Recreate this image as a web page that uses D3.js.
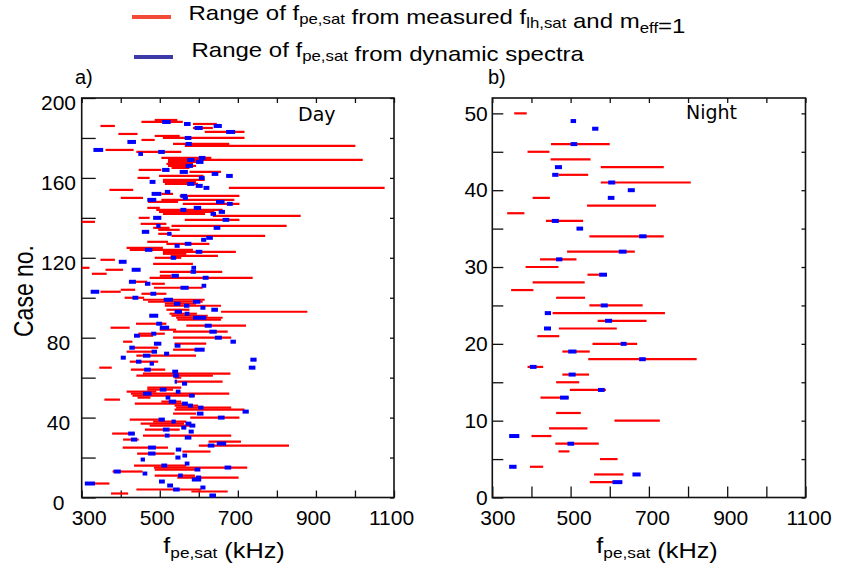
<!DOCTYPE html>
<html>
<head>
<meta charset="utf-8">
<script src="https://cdn.jsdelivr.net/npm/d3@7"></script>
<style>
body { margin: 0; background: #fff; }
text { font-family: "Liberation Sans", Arial, sans-serif; fill: #000; }
</style>
</head>
<body>
<div id="chart"></div>
<script>
// tick values
const xTicks = [300, 400, 500, 600, 700, 800, 900, 1000, 1100];
const xLabels = [300, 500, 700, 900, 1100];
const dayYTicks = [0, 20, 40, 60, 80, 100, 120, 140, 160, 180, 200];
const dayYLabels = [0, 40, 80, 120, 160, 200];
const nightYTicks = [0, 5, 10, 15, 20, 25, 30, 35, 40, 45, 50];
const nightYLabels = [0, 10, 20, 30, 40, 50];

// [case, low kHz, high kHz]
const dayRed = [
  [189, 487, 545], [188, 453, 559], [187, 585, 646], [186, 348, 385], [185, 585, 636],
  [183, 615, 717], [182, 394, 443], [181, 487, 551], [180, 508, 717], [179, 453, 487],
  [177, 534, 678], [176, 564, 1001], [174, 361, 433], [173, 440, 555], [170, 504, 632],
  [169, 521, 1020], [168, 521, 602], [167, 517, 585], [166, 521, 593], [165, 530, 576],
  [164, 446, 504], [163, 576, 657], [161, 498, 612], [160, 443, 474], [159, 508, 615],
  [158, 508, 593], [157, 513, 598], [155, 677, 1076], [154, 371, 432], [152, 504, 534],
  [151, 551, 704], [150, 400, 457], [149, 504, 691], [148, 470, 547], [147, 559, 704],
  [145, 468, 500], [144, 491, 661], [143, 498, 640], [142, 508, 616], [141, 636, 861],
  [140, 446, 474], [139, 564, 704], [138, 300, 334], [137, 451, 517], [136, 530, 825],
  [135, 483, 525], [134, 496, 551], [132, 496, 530], [131, 530, 770], [128, 468, 521],
  [127, 517, 627], [125, 415, 508], [124, 423, 585], [123, 508, 695], [122, 508, 568],
  [121, 528, 649], [120, 487, 555], [119, 348, 385], [117, 483, 585], [115, 300, 320],
  [114, 361, 406], [113, 500, 660], [112, 326, 364], [111, 500, 530], [110, 474, 738],
  [108, 421, 468], [107, 479, 513], [105, 485, 610], [104, 400, 437], [103, 348, 400],
  [102, 453, 517], [100, 410, 460], [99, 457, 615], [98, 470, 610], [97, 513, 593],
  [96, 513, 657], [94, 517, 576], [93, 657, 878], [92, 525, 595], [91, 530, 623],
  [90, 542, 661], [89, 545, 657], [87, 439, 517], [86, 568, 721], [85, 374, 423],
  [84, 500, 542], [83, 534, 674], [82, 445, 513], [81, 447, 483], [80, 534, 683],
  [78, 406, 430], [77, 538, 619], [75, 428, 496], [74, 534, 612], [73, 415, 485],
  [71, 440, 593], [68, 423, 496], [65, 345, 377], [64, 426, 514], [62, 457, 681],
  [61, 440, 636], [60, 538, 555], [58, 542, 661], [55, 468, 555], [54, 468, 534],
  [53, 415, 491], [52, 426, 678], [51, 430, 590], [50, 443, 476], [49, 358, 398],
  [48, 504, 555], [47, 436, 564], [46, 538, 598], [45, 542, 683], [44, 538, 717],
  [42, 534, 593], [40, 578, 704], [39, 423, 508], [38, 483, 568], [37, 451, 562],
  [36, 474, 581], [34, 462, 551], [32, 378, 436], [31, 457, 683], [29, 406, 446],
  [28, 625, 708], [26, 600, 831], [25, 405, 521], [23, 558, 630], [22, 442, 538],
  [16, 434, 568], [15, 485, 724], [14, 487, 598], [13, 379, 456], [11, 487, 590],
  [10, 545, 702], [7, 309, 371], [4, 440, 606], [3, 581, 674], [2, 375, 419]
];
const dayBlue = [
  [188, 506, 528], [187, 562, 579], [186, 638, 659], [185, 589, 610], [183, 670, 693],
  [180, 564, 581], [178, 417, 439], [177, 566, 582], [174, 330, 355], [173, 496, 513],
  [172, 445, 457], [170, 600, 617], [169, 570, 589], [168, 593, 612], [166, 566, 585],
  [164, 506, 525], [163, 551, 572], [162, 633, 650], [161, 670, 687], [160, 600, 615],
  [158, 474, 489], [157, 570, 589], [156, 592, 610], [155, 612, 627], [153, 513, 527],
  [152, 479, 504], [151, 553, 570], [150, 559, 572], [149, 468, 491], [148, 644, 666],
  [147, 672, 687], [145, 587, 606], [144, 553, 568], [143, 651, 667], [142, 630, 644],
  [140, 483, 504], [139, 661, 678], [136, 491, 502], [135, 638, 655], [133, 454, 473],
  [132, 519, 530], [130, 619, 636], [129, 606, 619], [127, 564, 581], [126, 538, 551],
  [124, 462, 481], [123, 592, 609], [120, 528, 542], [118, 395, 415], [115, 581, 593],
  [114, 428, 451], [113, 579, 593], [111, 530, 549], [110, 610, 625], [108, 421, 439],
  [107, 462, 476], [106, 607, 619], [105, 553, 574], [103, 323, 345], [102, 476, 491],
  [100, 430, 445], [99, 510, 534], [98, 585, 604], [97, 536, 553], [96, 562, 576],
  [95, 604, 617], [94, 632, 649], [93, 538, 557], [92, 564, 576], [91, 473, 496],
  [90, 585, 619], [87, 491, 506], [86, 615, 633], [85, 500, 524], [83, 627, 646],
  [82, 478, 491], [81, 434, 449], [80, 641, 659], [78, 681, 695], [77, 485, 504],
  [76, 538, 553], [75, 422, 436], [74, 589, 615], [73, 479, 493], [72, 511, 524],
  [71, 457, 476], [70, 400, 413], [69, 732, 748], [68, 439, 453], [67, 474, 485],
  [65, 728, 745], [64, 460, 477], [63, 532, 547], [61, 534, 549], [58, 538, 544],
  [57, 557, 570], [54, 500, 517], [53, 541, 553], [52, 457, 479], [51, 575, 589],
  [50, 515, 527], [48, 523, 542], [47, 557, 572], [46, 572, 585], [45, 598, 612],
  [43, 712, 728], [42, 595, 612], [40, 649, 666], [39, 497, 513], [38, 530, 541],
  [37, 566, 581], [36, 576, 591], [35, 555, 568], [34, 508, 525], [33, 574, 587],
  [32, 419, 436], [31, 513, 525], [30, 564, 581], [29, 426, 442], [27, 646, 670],
  [26, 623, 640], [25, 470, 490], [24, 541, 555], [22, 470, 489], [21, 558, 570],
  [20, 540, 553], [19, 451, 462], [17, 564, 576], [16, 504, 519], [15, 666, 683],
  [14, 589, 604], [13, 382, 400], [12, 456, 468], [11, 547, 559], [10, 593, 606],
  [9, 582, 606], [8, 498, 513], [7, 308, 334], [6, 519, 534], [5, 604, 617],
  [4, 534, 551], [1, 627, 644]
];

const nightRed = [
  [50, 356, 388], [46, 450, 600], [45, 390, 446], [44, 449, 551], [43, 577, 738],
  [42, 469, 545], [41, 577, 807], [39, 403, 447], [38, 542, 718], [37, 338, 382],
  [36, 437, 532], [34, 548, 738], [32, 491, 664], [31, 422, 515], [30, 385, 469],
  [29, 543, 575], [28, 403, 536], [27, 348, 405], [26, 463, 537], [25, 548, 684],
  [24, 454, 741], [23, 569, 694], [22, 470, 618], [21, 415, 471], [20, 556, 670],
  [19, 479, 549], [18, 545, 822], [17, 390, 430], [16, 479, 547], [15, 463, 522],
  [14, 498, 590], [13, 423, 495], [11, 463, 526], [10, 612, 728], [9, 445, 543],
  [8, 400, 451], [7, 461, 572], [6, 469, 497], [5, 575, 620], [4, 396, 430],
  [3, 560, 635], [2, 549, 632]
];
const nightBlue = [
  [49, 500, 514], [48, 555, 571], [46, 500, 517], [43, 460, 478], [42, 453, 469],
  [41, 596, 614], [40, 646, 664], [39, 595, 612], [36, 452, 470], [35, 515, 532],
  [34, 675, 694], [32, 623, 643], [31, 463, 479], [29, 573, 593], [25, 577, 595],
  [24, 434, 450], [23, 588, 606], [22, 432, 450], [20, 628, 643], [19, 494, 515],
  [18, 675, 692], [17, 396, 413], [16, 495, 513], [14, 570, 587], [13, 473, 495],
  [8, 343, 369], [7, 492, 509], [4, 343, 362], [3, 658, 679], [2, 607, 632]
];

const svg = d3.select('#chart')
  .append('svg')
  .attr('width', 842)
  .attr('height', 567);

// text with subscript runs; the original figure is stretched sideways
function subText(sel, parts, size, subSize) {
  const drop = size * 0.22;
  parts.forEach(p => {
    if (p.sub) {
      sel.append('tspan').attr('font-size', subSize).attr('dy', drop).text(p.t);
      sel.append('tspan').attr('font-size', size).attr('dy', -drop).text('');
    } else {
      sel.append('tspan').attr('font-size', size).text(p.t);
    }
  });
}

function drawPanel(o) {
  const x = d3.scaleLinear().domain([300, 1100]).range([o.left, o.right]);
  const y = d3.scaleLinear().domain(o.yDomain).range([497.5, 98]);
  const g = svg.append('g');

  g.append('g')
    .attr('transform', `translate(${o.left},0)`)
    .call(d3.axisLeft(y).tickValues(o.yTicks).tickSize(-o.leftTick).tickPadding(o.yPad)
      .tickFormat(d => o.yLabels.includes(d) ? d : ''))
    .call(a => a.select('.domain').remove())
    .call(a => a.selectAll('text').attr('font-size', 21).attr('font-family', null)
      .attr('text-anchor', o.yAnchor).attr('x', o.yLabelX).attr('dy', o.yDy));

  g.append('g')
    .attr('transform', `translate(${o.right},0)`)
    .call(d3.axisRight(y).tickValues(o.yTicks).tickSize(-4).tickFormat(''))
    .call(a => a.select('.domain').remove());

  g.append('g')
    .attr('transform', 'translate(0,497.5)')
    .call(d3.axisBottom(x).tickValues(xTicks).tickSize(-o.bottomTick).tickPadding(12.6)
      .tickFormat(d => xLabels.includes(d) ? d : ''))
    .call(a => a.select('.domain').remove())
    .call(a => a.selectAll('text').attr('font-size', 21).attr('font-family', null)
      .attr('dx', d => d === 300 ? o.firstDx : o.labelDx));

  g.append('g')
    .attr('transform', 'translate(0,98)')
    .call(d3.axisTop(x).tickValues(xTicks).tickSize(-5).tickFormat(''))
    .call(a => a.select('.domain').remove());

  g.selectAll('.tick line').attr('stroke', '#111').attr('stroke-width', 1.3);

  g.append('rect')
    .attr('x', o.left).attr('y', 98)
    .attr('width', o.right - o.left).attr('height', 497.5 - 98)
    .attr('fill', 'none').attr('stroke', '#111').attr('stroke-width', 1.6);

  g.append('g').selectAll('line')
    .data(o.red)
    .enter()
    .append('line')
    .attr('x1', d => x(d[1])).attr('x2', d => x(Math.min(d[2], 1100)))
    .attr('y1', d => y(d[0])).attr('y2', d => y(d[0]))
    .attr('stroke', '#ff0000').attr('stroke-width', 2.2);

  g.append('g').selectAll('line')
    .data(o.blue)
    .enter()
    .append('line')
    .attr('x1', d => x(d[1])).attr('x2', d => x(d[2]))
    .attr('y1', d => y(d[0])).attr('y2', d => y(d[0]))
    .attr('stroke', '#0000ff').attr('stroke-width', 4);

  g.append('text')
    .attr('x', o.tagX).attr('y', o.tagY)
    .style('font-family', '"DejaVu Sans", Verdana, sans-serif')
    .attr('font-size', 19)
    .text(o.tag);

  const t = g.append('text')
    .attr('transform', `translate(${o.titleX},553) scale(1.15,1)`)
    .attr('text-anchor', 'middle');
  subText(t, [{ t: 'f' }, { t: 'pe,sat', sub: true }, { t: ' (kHz)' }], 22, 15);

  g.append('text')
    .attr('x', o.panelX).attr('y', 84)
    .attr('font-size', 20)
    .text(o.panel);
}

drawPanel({
  left: 81.7, right: 394, yDomain: [0, 200], yTicks: dayYTicks, yLabels: dayYLabels,
  leftTick: 14, bottomTick: 7, yPad: 4, yAnchor: 'middle', yLabelX: 58.5 - 81.7, yDy: '0.55em',
  firstDx: 7, labelDx: -3,
  red: dayRed, blue: dayBlue, tag: 'Day', tagX: 298, tagY: 121,
  titleX: 224, panel: 'a)', panelX: 75
});

drawPanel({
  left: 492.3, right: 805.5, yDomain: [0, 52], yTicks: nightYTicks, yLabels: nightYLabels,
  leftTick: 11, bottomTick: 11, yPad: 5, yAnchor: 'end', yLabelX: -4.5, yDy: '0.32em',
  firstDx: 5, labelDx: 3,
  red: nightRed, blue: nightBlue, tag: 'Night', tagX: 686, tagY: 119,
  titleX: 657, panel: 'b)', panelX: 488
});

svg.append('text')
  .attr('transform', 'translate(33,291) rotate(-90) scale(1,1.2)')
  .attr('text-anchor', 'middle')
  .attr('font-size', 23)
  .text('Case no.');

// legend
svg.append('line')
  .attr('x1', 132).attr('x2', 171).attr('y1', 17).attr('y2', 17)
  .attr('stroke', '#f24b3a').attr('stroke-width', 4);
svg.append('line')
  .attr('x1', 134).attr('x2', 173).attr('y1', 57).attr('y2', 57)
  .attr('stroke', '#3b3aa6').attr('stroke-width', 4);

const l1 = svg.append('text').attr('transform', 'translate(188.5,19.5) scale(1.2,1)');
subText(l1, [{ t: 'Range of f' }, { t: 'pe,sat', sub: true }, { t: ' from measured f' },
  { t: 'lh,sat', sub: true }, { t: ' and m' }, { t: 'eff', sub: true }, { t: '=1' }], 20, 14);

const l2 = svg.append('text').attr('transform', 'translate(191.5,56.7) scale(1.2,1)');
subText(l2, [{ t: 'Range of f' }, { t: 'pe,sat', sub: true }, { t: ' from dynamic spectra' }], 20, 14);
</script>
</body>
</html>
